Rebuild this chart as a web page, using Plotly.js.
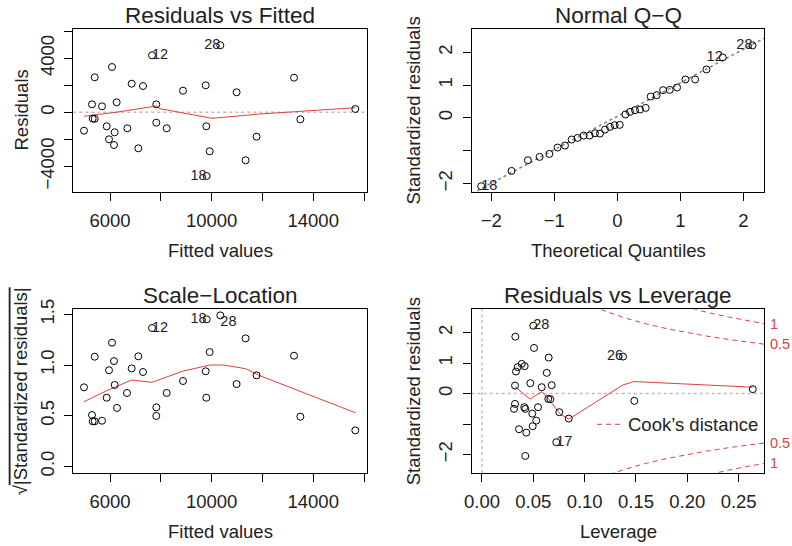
<!DOCTYPE html>
<html>
<head>
<meta charset="utf-8">
<script src="https://cdn.plot.ly/plotly-3.0.1.min.js"></script>
<style>
  html, body { margin: 0; padding: 0; background: #fff; }
  #plot { width: 792px; height: 546px; }
</style>
</head>
<body>
<div id="plot"></div>
<script>
// --- Residuals vs Fitted ---
var rfFitted = [7654, 10343, 6079, 5398, 6853, 7299, 8874, 9768, 10984, 13244, 5291, 5685, 6262, 7823, 15657, 5318,
                5397, 4976, 5869, 6184, 5961, 6157, 6682, 7115, 7823, 8232, 9791, 9925, 9807, 11338, 11771, 13494];
var rfResid = [4222, 4963, 3355, 2593, 2119, 1948, 1600, 2000, 1481, 2563, 593, 444, 741, 593, 244, -470,
               -480, -1363, -1037, -1481, -2000, -2422, -1185, -2667, -770, -1185, -1037, -2889, -4719, -3555, -1807, -519];
var rfSmoothX = [4976, 6394, 7823, 7969, 10016, 11906, 15657];
var rfSmoothY = [-296, 44, 467, 267, -444, -126, 341];
var rfLabelIdx = [0, 1, 28];
var rfLabels = ['12', '28', '18'];

// --- Normal Q-Q ---
var qqTheo = [-2.159, -1.678, -1.419, -1.233, -1.079, -0.948, -0.831, -0.725, -0.630, -0.535, -0.440, -0.355, -0.276, -0.196, -0.117, -0.043,
              0.037, 0.127, 0.201, 0.280, 0.359, 0.449, 0.529, 0.624, 0.725, 0.830, 0.947, 1.079, 1.233, 1.413, 1.671, 2.143];
var qqStd = [-2.085, -1.618, -1.292, -1.191, -1.099, -0.905, -0.844, -0.661, -0.611, -0.539, -0.539, -0.468, -0.478, -0.356, -0.275, -0.224,
             -0.214, 0.102, 0.183, 0.234, 0.255, 0.305, 0.652, 0.692, 0.845, 0.855, 0.927, 1.171, 1.171, 1.477, 1.843, 2.210];
var qqLineX = [-2.31, 2.33];
var qqLineY = [-2.31, 2.43];
var qqLabelIdx = [0, 30, 31];
var qqLabels = ['18', '12', '28'];

// --- Scale-Location ---
var slFitted = [7654, 9807, 10343, 6079, 11338, 5398, 7115, 9925, 13244, 6157, 5961, 6853, 7299, 9768, 11771, 4976,
                6184, 8874, 10984, 6669, 8232, 5869, 9791, 6276, 7823, 5291, 7823, 5318, 5397, 5685, 13494, 15657];
var slRoot = [1.365, 1.451, 1.490, 1.220, 1.263, 1.082, 1.086, 1.128, 1.092, 1.039, 0.948, 0.967, 0.931, 0.938, 0.898, 0.780,
              0.803, 0.842, 0.812, 0.724, 0.724, 0.677, 0.677, 0.576, 0.582, 0.506, 0.497, 0.444, 0.444, 0.450, 0.490, 0.355];
var slSmoothX = [4976, 5869, 6853, 7654, 8886, 9937, 10461, 11338, 11906, 15657];
var slSmoothY = [0.638, 0.746, 0.852, 0.829, 0.941, 1.0, 1.0, 0.964, 0.894, 0.529];
var slLabelIdx = [0, 1, 2];
var slLabels = ['12', '18', '28'];

// --- Residuals vs Leverage ---
var levH = [0.0500, 0.0325, 0.0507, 0.1374, 0.0650, 0.0331, 0.0348, 0.0387, 0.0416, 0.0631, 0.0322, 0.0471, 0.0582, 0.0679, 0.2638, 0.0322,
            0.0312, 0.0412, 0.0422, 0.0546, 0.0646, 0.0666, 0.0490, 0.0753, 0.0845, 0.0529, 0.0494, 0.0361, 0.0432, 0.0724, 0.1484, 0.0422];
var levStd = [2.23, 1.87, 1.50, 1.217, 1.184, 0.724, 0.868, 0.977, 0.901, 0.681, 0.263, 0.342, 0.210, 0.276, 0.145, -0.339,
              -0.503, -0.447, -0.503, -0.447, -0.174, -0.184, -0.658, -0.612, -0.822, -0.888, -1.072, -1.171, -1.283, -1.599, -0.240, -2.05];
var levSmoothX = [0.0322, 0.0468, 0.0582, 0.0663, 0.0760, 0.0845, 0.1374, 0.1484, 0.2638];
var levSmoothY = [0.230, -0.184, 0.066, -0.240, -0.668, -0.842, 0.286, 0.395, 0.210];
var levLabelIdx = [0, 3, 29];
var levLabels = ['28', '26', '17'];
// Cook's distance contours (upper half; lower half is the mirror)
var cookH = [0.10, 0.12, 0.14, 0.16, 0.18, 0.20, 0.22, 0.24, 0.26, 0.275];
var cookHalf = [3.0, 2.708, 2.478, 2.291, 2.134, 2.0, 1.883, 1.780, 1.687, 1.624];
var cookOne = [4.243, 3.830, 3.505, 3.240, 3.018, 2.828, 2.663, 2.517, 2.386, 2.296];

var W = 792, H = 546;
var FONT = 'Liberation Sans, Arial, Helvetica, sans-serif';
var RED = '#DF3F3F';
var INK = '#222';
var LAB = 18.5;   // axis labels and ticks
var MAIN = 22.5;  // panel captions

function pick(arr, idx) { return idx.map(function (i) { return arr[i]; }); }
function neg(arr) { return arr.map(function (v) { return -v; }); }

function pts(x, y, xa, ya) {
    return { x: x, y: y, xaxis: xa, yaxis: ya, type: 'scatter', mode: 'markers', hoverinfo: 'skip',
        marker: { symbol: 'circle-open', size: 7, color: '#000', line: { width: 1, color: '#000' } } };
}
function line(x, y, xa, ya, color, dash, width) {
    return { x: x, y: y, xaxis: xa, yaxis: ya, type: 'scatter', mode: 'lines', hoverinfo: 'skip',
        line: { color: color, dash: dash || 'solid', width: width || 1 } };
}
function labels(x, y, txt, pos, xa, ya) {
    return { x: x, y: y, text: txt, xaxis: xa, yaxis: ya, type: 'scatter', mode: 'text', hoverinfo: 'skip',
        textposition: pos, marker: { size: 6 }, cliponaxis: false,
        textfont: { family: FONT, size: 14.5, color: INK } };
}

var COOKDASH = '5px,4px';

var data = [
    // panel 1
    line(rfSmoothX, rfSmoothY, 'x', 'y', RED),
    pts(rfFitted, rfResid, 'x', 'y'),
    labels(pick(rfFitted, rfLabelIdx), pick(rfResid, rfLabelIdx), rfLabels,
        ['middle right', 'middle left', 'middle left'], 'x', 'y'),
    // panel 2
    line(qqLineX, qqLineY, 'x2', 'y2', '#808080', 'dot', 1.5),
    pts(qqTheo, qqStd, 'x2', 'y2'),
    labels(pick(qqTheo, qqLabelIdx), pick(qqStd, qqLabelIdx), qqLabels,
        ['middle right', 'middle left', 'middle left'], 'x2', 'y2'),
    // panel 3
    line(slSmoothX, slSmoothY, 'x3', 'y3', RED),
    pts(slFitted, slRoot, 'x3', 'y3'),
    labels(pick(slFitted, slLabelIdx), pick(slRoot, slLabelIdx), slLabels,
        ['middle right', 'middle left', 'bottom right'], 'x3', 'y3'),
    // panel 4
    line(cookH, cookHalf, 'x4', 'y4', RED, COOKDASH),
    line(cookH, cookOne, 'x4', 'y4', RED, COOKDASH),
    line(cookH, neg(cookHalf), 'x4', 'y4', RED, COOKDASH),
    line(cookH, neg(cookOne), 'x4', 'y4', RED, COOKDASH),
    line(levSmoothX, levSmoothY, 'x4', 'y4', RED),
    pts(levH, levStd, 'x4', 'y4'),
    labels(pick(levH, levLabelIdx), pick(levStd, levLabelIdx), levLabels,
        ['middle right', 'middle left', 'middle right'], 'x4', 'y4')
];

function axis(extra) {
    var a = {
        showgrid: false, zeroline: false, showline: true, mirror: true,
        linecolor: '#000', linewidth: 1, ticks: 'outside', ticklen: 8, tickwidth: 1, tickcolor: '#000',
        tickfont: { family: FONT, size: LAB, color: INK }, tickmode: 'array', fixedrange: true,
        ticklabelstandoff: 3
    };
    for (var k in extra) a[k] = extra[k];
    return a;
}
function px(x0, x1) { return [x0 / W, x1 / W]; }
function py(top, bottom) { return [1 - bottom / H, 1 - top / H]; }

var colL = px(73.3, 366.7), colR = px(471.7, 764.3);
var rowT = py(28.7, 192.3), rowB = py(309.3, 473.3);
var fitTicks = [6000, 8000, 10000, 12000, 14000, 16000];
var fitText = ['6000', '', '10000', '', '14000', ''];
var stdTicks = [-2, -1, 0, 1, 2];
var stdText = ['\u22122', '', '0', '1', '2'];

function note(text, x, y, size, angle, extra) {
    var a = { text: text, xref: 'paper', yref: 'paper', x: x / W, y: 1 - y / H,
        xanchor: 'center', yanchor: 'middle', showarrow: false, textangle: angle || 0,
        font: { family: FONT, size: size, color: INK } };
    for (var k in extra) a[k] = extra[k];
    return a;
}
function cookNote(text, yv) {
    return { text: text, xref: 'paper', yref: 'y4', x: 768 / W, y: yv, xanchor: 'left', yanchor: 'middle',
        showarrow: false, font: { family: FONT, size: 14.5, color: RED } };
}

var grey = { color: '#BEBEBE', dash: 'dot', width: 1.5 };

var layout = {
    width: W, height: H,
    margin: { l: 0, r: 0, t: 0, b: 0 },
    paper_bgcolor: '#fff', plot_bgcolor: '#fff',
    showlegend: false,
    xaxis: axis({ domain: colL, anchor: 'y', range: [4555, 16106], tickvals: fitTicks, ticktext: fitText }),
    yaxis: axis({ domain: rowT, anchor: 'x', range: [-5926, 6193], tickvals: [-4000, -2000, 0, 2000, 4000, 6000],
        ticktext: ['\u22124000', '', '0', '', '4000', ''], tickangle: -90 }),
    xaxis2: axis({ domain: colR, anchor: 'y2', range: [-2.31, 2.33], tickvals: stdTicks,
        ticktext: ['\u22122', '\u22121', '0', '1', '2'] }),
    yaxis2: axis({ domain: rowT, anchor: 'x2', range: [-2.27, 2.72], tickvals: stdTicks, ticktext: stdText, tickangle: -90 }),
    xaxis3: axis({ domain: colL, anchor: 'y3', range: [4555, 16106], tickvals: fitTicks, ticktext: fitText }),
    yaxis3: axis({ domain: rowB, anchor: 'x3', range: [-0.069, 1.55], tickvals: [0, 0.5, 1, 1.5],
        ticktext: ['0.0', '0.5', '1.0', '1.5'], tickangle: -90 }),
    xaxis4: axis({ domain: colR, anchor: 'y4', range: [-0.010, 0.275], tickvals: [0, 0.05, 0.1, 0.15, 0.2, 0.25],
        ticktext: ['0.00', '0.05', '0.10', '0.15', '0.20', '0.25'] }),
    yaxis4: axis({ domain: rowB, anchor: 'x4', range: [-2.62, 2.77], tickvals: stdTicks, ticktext: stdText, tickangle: -90 }),
    shapes: [
        { type: 'line', xref: 'x domain', yref: 'y', x0: 0, x1: 1, y0: 0, y1: 0, line: grey, layer: 'below' },
        { type: 'line', xref: 'x4 domain', yref: 'y4', x0: 0, x1: 1, y0: 0, y1: 0, line: grey, layer: 'below' },
        { type: 'line', xref: 'x4', yref: 'y4 domain', x0: 0, x1: 0, y0: 0, y1: 1, line: grey, layer: 'below' },
        // legend sample for Cook's distance
        { type: 'line', xref: 'paper', yref: 'paper', x0: 597 / W, x1: 622 / W, y0: 1 - 424.3 / H, y1: 1 - 424.3 / H,
          line: { color: RED, dash: COOKDASH, width: 1 } }
    ],
    annotations: [
        note('Residuals vs Fitted', 220, 15, MAIN),
        note('Normal Q\u2212Q', 618, 15, MAIN),
        note('Scale\u2212Location', 220, 295, MAIN),
        note('Residuals vs Leverage', 618, 295, MAIN),
        note('Fitted values', 220, 251, LAB),
        note('Theoretical Quantiles', 618, 251, LAB),
        note('Fitted values', 220, 531.5, LAB),
        note('Leverage', 618, 531.5, LAB),
        note('Residuals', 21, 110.5, LAB, -90),
        note('Standardized residuals', 413, 110.5, LAB, -90),
        note('\u221A<span style="text-decoration:overline">|Standardized residuals|</span>', 20, 391.3, LAB, -90),
        note('Standardized residuals', 413, 391.3, LAB, -90),
        note('Cook\u2019s distance', 626, 424.3, LAB, 0, { xanchor: 'left' }),
        cookNote('0.5', cookHalf[cookHalf.length - 1]),
        cookNote('1', cookOne[cookOne.length - 1]),
        cookNote('0.5', -cookHalf[cookHalf.length - 1]),
        cookNote('1', -cookOne[cookOne.length - 1])
    ]
};

Plotly.newPlot('plot', data, layout, { displayModeBar: false, staticPlot: true });
</script>
</body>
</html>
